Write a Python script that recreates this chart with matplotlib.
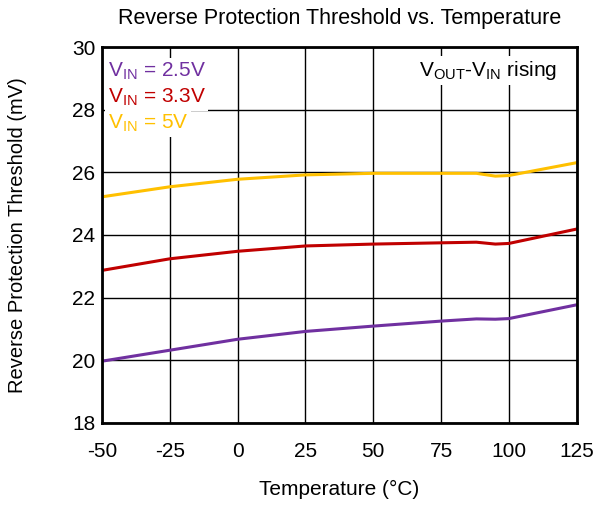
import matplotlib.pyplot as plt

plt.rcParams['font.family'] = ['Liberation Sans', 'DejaVu Sans']
plt.rcParams['mathtext.fontset'] = 'custom'
plt.rcParams['mathtext.rm'] = 'Liberation Sans'
plt.rcParams['axes.unicode_minus'] = False

temp = [-50, -25, 0, 25, 50, 75, 88, 95, 100, 125]
vin_25 = [19.97, 20.32, 20.67, 20.92, 21.09, 21.25, 21.32, 21.31, 21.33, 21.77]
vin_33 = [22.87, 23.24, 23.48, 23.65, 23.71, 23.75, 23.77, 23.71, 23.73, 24.19]
vin_5 = [25.22, 25.54, 25.78, 25.92, 25.97, 25.97, 25.97, 25.88, 25.90, 26.31]

xticks = [-50, -25, 0, 25, 50, 75, 100, 125]
yticks = [18, 20, 22, 24, 26, 28, 30]

fig = plt.figure(figsize=(5.97, 5.07), dpi=100)
ax = fig.add_axes([0.171, 0.166, 0.795, 0.741])

ax.plot(temp, vin_5, color='#FFC000', lw=2.2)
ax.plot(temp, vin_33, color='#C00000', lw=2.2)
ax.plot(temp, vin_25, color='#7030A0', lw=2.2)

ax.set_xlim(-50, 125)
ax.set_ylim(18, 30)
ax.set_xticks(xticks)
ax.set_yticks(yticks)
ax.grid(True, color='black', lw=1)
ax.set_axisbelow(True)
ax.tick_params(length=0, labelsize=15)
ax.tick_params(axis='x', pad=14)
ax.tick_params(axis='y', pad=5)
for s in ax.spines.values():
    s.set_linewidth(2)

ax.set_xlabel('Temperature (°C)', fontsize=15, va='center')
ax.set_ylabel('Reverse Protection Threshold (mV)', fontsize=14.5, va='center')
ax.xaxis.set_label_coords(0.5, -0.178)
ax.yaxis.set_label_coords(-0.179, 0.5)
ax.set_title('Reverse Protection Threshold vs. Temperature', fontsize=15.5, pad=17)

box = dict(facecolor='white', edgecolor='none', pad=2)
ax.text(0.012, 0.964, r'V$_{\mathregular{IN}}$ = 2.5V', color='#7030A0', fontsize=15,
        transform=ax.transAxes, va='top', ha='left', bbox=box)
ax.text(0.012, 0.895, r'V$_{\mathregular{IN}}$ = 3.3V', color='#C00000', fontsize=15,
        transform=ax.transAxes, va='top', ha='left', bbox=box)
ax.text(0.012, 0.826, r'V$_{\mathregular{IN}}$ = 5V', color='#FFC000', fontsize=15,
        transform=ax.transAxes, va='top', ha='left', bbox=box)
ax.text(0.96, 0.968, r'V$_{\mathregular{OUT}}$-V$_{\mathregular{IN}}$ rising', color='black',
        fontsize=15, transform=ax.transAxes, va='top', ha='right', bbox=box)

fig.savefig('out.png', dpi=100)
